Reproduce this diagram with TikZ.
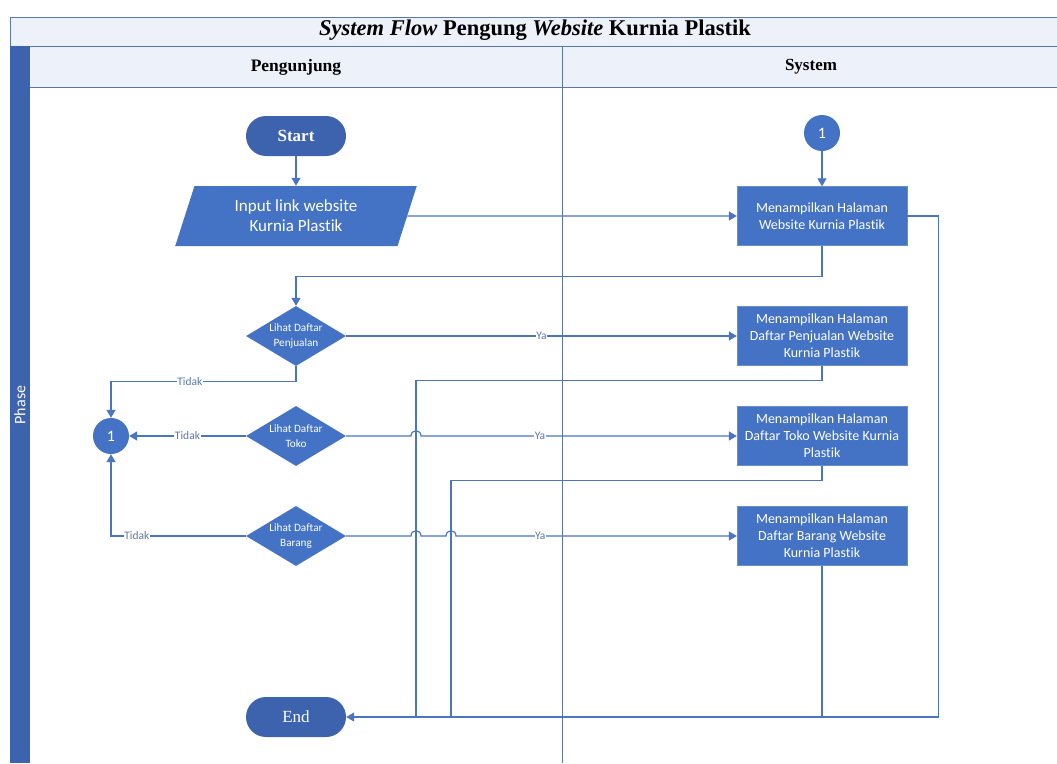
\documentclass[tikz,border=0pt]{standalone}
\usepackage{fontspec}
\setmainfont{Liberation Serif}
\newfontfamily\carlitofont[Ligatures={NoCommon}]{Carlito}
\usetikzlibrary{shapes.geometric,arrows.meta,positioning}
\definecolor{nodeblue}{HTML}{4472C4}
\definecolor{termblue}{HTML}{3D62AE}
\definecolor{lineblue}{HTML}{4A74C4}
\definecolor{frame}{HTML}{5B76A8}
\definecolor{band}{HTML}{EDF1F9}
\definecolor{lbltext}{HTML}{5A78B0}
\tikzset{
  conn/.style={draw=lineblue, line width=1.2pt},
  arr/.style={conn, -{Triangle[length=8pt,width=9pt]}},
  term/.style={rectangle, rounded corners=20pt, fill=termblue, text=white, minimum width=100pt, minimum height=40pt, inner sep=0pt},
  procbox/.style={rectangle, fill=nodeblue, draw=nodeblue!80!white, text=white, minimum width=170pt, minimum height=59pt, inner sep=0pt, align=center, font=\carlitofont\fontsize{14}{17}\selectfont},
  decision/.style={diamond, fill=nodeblue, minimum width=100pt, minimum height=60pt, inner sep=0pt},
  dtext/.style={text=white, align=center, font=\carlitofont\fontsize{11.2}{15}\selectfont},
  conncircle/.style={circle, fill=nodeblue, text=white, minimum size=36pt, inner sep=0pt, font=\carlitofont\fontsize{16}{16}\selectfont},
  lbl/.style={fill=white, inner sep=0.5pt, text=lbltext, font=\carlitofont\fontsize{11.5}{11.5}\selectfont},
}
\begin{document}
\begin{tikzpicture}[x=1pt, y=-1pt]
\useasboundingbox (0,0) rectangle (1057,763);
% frame
\fill[white] (0,0) rectangle (1057,763);
\fill[band] (10,17) rectangle (1057,46);
\draw[frame, line width=0.8pt] (10,17) -- (1057,17);
\draw[frame, line width=0.8pt] (10,17) -- (10,46);
\fill[band] (30,46) rectangle (1057,87);
\draw[frame, line width=0.8pt] (10,46) -- (1057,46);
\draw[frame, line width=0.8pt] (30,87) -- (1057,87);
\fill[termblue] (10,46) rectangle (30,763);
\draw[frame, line width=0.8pt] (562,46) -- (562,763);
\node[font=\fontsize{22.5}{22.5}\selectfont\bfseries] (title) at (535,30) {\textit{System Flow} Pengung \textit{Website} Kurnia Plastik};
\node[font=\fontsize{17.5}{17.5}\selectfont\bfseries] (h1) at (296,67) {Pengunjung};
\node[font=\fontsize{17}{17}\selectfont\bfseries] (h2) at (811,67) {System};
\node[rotate=90, text=white, font=\carlitofont\fontsize{16}{16}\selectfont] (phase) at (20,405) {Phase};

% nodes
\node[term, font=\fontsize{17}{17}\selectfont\bfseries] (start) at (296,136) {Start};
\node[trapezium, trapezium left angle=70, trapezium right angle=110, trapezium stretches=true, fill=nodeblue, minimum width=242pt, minimum height=60pt, inner sep=0pt, text=white, align=center, font=\carlitofont\fontsize{17}{20}\selectfont] (input) at (296,216) {Input link website\\Kurnia Plastik};
\node[conncircle] (c2) at (822,133) {1};
\node[procbox] (b1) at (822,216) {Menampilkan Halaman\\Website Kurnia Plastik};
\node[procbox] (b2) at (822,336) {Menampilkan Halaman\\Daftar Penjualan Website\\Kurnia Plastik};
\node[procbox] (b3) at (822,436) {Menampilkan Halaman\\Daftar Toko Website Kurnia\\Plastik};
\node[procbox] (b4) at (822,536) {Menampilkan Halaman\\Daftar Barang Website\\Kurnia Plastik};
\node[decision, label={[dtext]center:Lihat Daftar\\Penjualan}] (d1) at (296,336) {};
\node[decision, label={[dtext]center:Lihat Daftar\\Toko}] (d2) at (296,436) {};
\node[decision, label={[dtext]center:Lihat Daftar\\Barang}] (d3) at (296,536) {};
\node[conncircle] (c1) at (111,436) {1};
\node[term, font=\fontsize{17}{17}\selectfont] (end) at (296,717) {End};
\coordinate (j2) at (416,717);
\coordinate (j3) at (451,717);

% connectors
\draw[arr] (start) -- (input);
\draw[arr] (input.east) -- (b1.west);
\draw[arr] (c2) -- (b1);
\draw[arr] (b1.south) -- ++(0,31) -| (d1.north);
\draw[arr] (d1.east) -- node[lbl] {Ya} (b2.west);
\draw[arr] (d1.south) -- ++(0,15) -| node[lbl, pos=0.287] {Tidak} (c1.north);
\draw[arr] (d2.west) -- node[lbl] {Tidak} (c1.east);
\draw[arr] (d3.west) -| node[lbl, pos=0.404] {Tidak} (c1.south);
\draw[arr] (d2.east) -- (411,436) .. controls (411,429) and (421,429) .. (421,436) -- node[lbl, pos=0.377] {Ya} (b3.west);
\draw[arr] (d3.east) -- (411,536) .. controls (411,529) and (421,529) .. (421,536) -- (446,536) .. controls (446,529) and (456,529) .. (456,536) -- node[lbl, pos=0.30] {Ya} (b4.west);
\draw[conn] (b2.south) -- ++(0,15) -| (j2);
\draw[conn] (b3.south) -- ++(0,15) -| (j3);
\draw[conn] (b4.south) -- (b4.south |- end.east);
\draw[arr] (b1.east) -- ++(31,0) |- (end.east);
\end{tikzpicture}
\end{document}
